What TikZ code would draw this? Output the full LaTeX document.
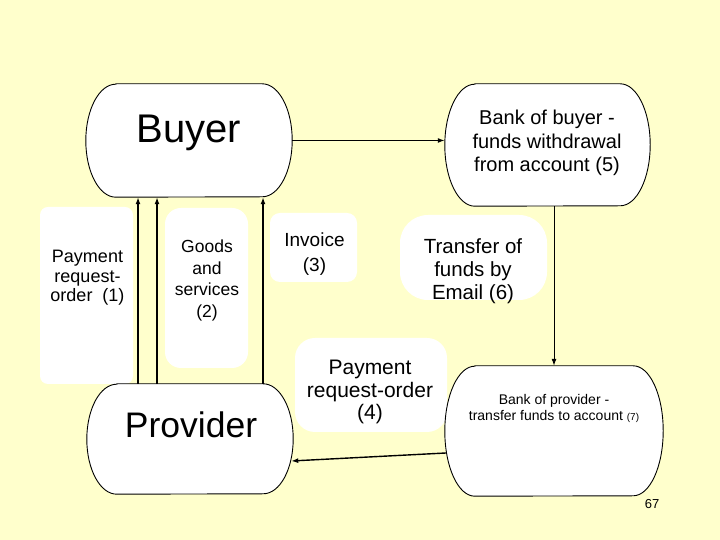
\documentclass[tikz,border=0pt]{standalone}
\usepackage{fontspec}
\setmainfont{Liberation Sans}
\usepackage{tikz}
\usetikzlibrary{arrows.meta,calc}
\definecolor{SlidePaper}{HTML}{FFFFCC}
\definecolor{SlideInk}{HTML}{000000}

% outline with flat top/bottom and half-ellipse sides around an empty node
\newcommand\flowbox[2]{%
  \draw[SlideInk,line width=0.9pt,fill=white]
    ($(#1.north west)+(30,0)$) -- ($(#1.north east)+(-30,0)$)
    arc[start angle=90,end angle=-90,x radius=30,y radius=#2]
    -- ($(#1.south west)+(30,0)$)
    arc[start angle=270,end angle=90,x radius=30,y radius=#2] -- cycle;}

\begin{document}
\begin{tikzpicture}[x=1pt,y=1pt,>={Latex[length=7pt,width=5pt]},
  boxarea/.style={inner sep=0pt,draw=none},
  patch/.style={fill=white},
  flow/.style={->,line width=1.4pt,SlideInk},
  tag/.style={anchor=base,align=center,inner sep=0pt}]
  \useasboundingbox (0,0) rectangle (720,540);
  \fill[SlidePaper] (0,0) rectangle (720,540);

  % white patches behind the labels
  \fill[patch,rounded corners=8] (40,156) rectangle (133,333);
  \fill[patch,rounded corners=16] (165,172) rectangle (248,332);
  \fill[patch,rounded corners=10] (270,258) rectangle (357,327);
  \fill[patch,rounded corners=28] (400,240) rectangle (547,325);
  \fill[patch,rounded corners=20] (295,108) rectangle (447,202);

  \node[boxarea,minimum width=206,minimum height=113] (buyer) at (189,399.5) {};
  \node[boxarea,minimum width=205,minimum height=122] (bankbuyer) at (547.5,395) {};
  \node[boxarea,minimum width=206,minimum height=110] (provider) at (190,101) {};
  \node[boxarea,minimum width=218,minimum height=130] (bankprov) at (554,109) {};
  \flowbox{buyer}{56.5}
  \flowbox{bankbuyer}{61}
  \flowbox{provider}{55}
  \flowbox{bankprov}{65}

  % base anchor = baseline of the last line
  \node[tag,font=\fontsize{40}{44}\selectfont] (buyertxt) at (189,397) {Buyer};
  \node[tag,font=\fontsize{35.5}{40}\selectfont] (providertxt) at (191,102) {Provider};
  \node[tag,font=\fontsize{20}{23.5}\selectfont] (bankbuyertxt) at (547,368)
    {Bank of buyer -\\funds withdrawal\\from account (5)};
  \node[tag,font=\fontsize{14}{16.4}\selectfont] (bankprovtxt) at (554,119.3)
    {Bank of provider -\\transfer funds to account {\fontsize{10}{12}\selectfont(7)}};
  \node[tag,font=\fontsize{18}{19.5}\selectfont] (step1) at (87.5,238)
    {Payment\\request-\\order\ \ (1)};
  \node[tag,font=\fontsize{17.5}{21.5}\selectfont] (step2) at (207,222.7)
    {Goods\\and\\services\\(2)};
  \node[tag,font=\fontsize{19}{25}\selectfont] (step3) at (314.5,268.3)
    {Invoice\\(3)};
  \node[tag,font=\fontsize{20.5}{23.3}\selectfont] (step6) at (473,240)
    {Transfer of\\funds by\\Email (6)};
  \node[tag,font=\fontsize{21}{22.5}\selectfont] (step4) at (370,120)
    {Payment\\request-order\\(4)};
  \node[anchor=base,font=\fontsize{13}{15}\selectfont] (pagenum) at (652,31) {67};

  \draw[flow] (buyer.east) -- (buyer.east -| bankbuyer.west);
  \draw[flow,line width=1pt] (bankbuyer.south -| bankprov.north) -- (bankprov.north);
  \draw[flow] ($(bankprov.west)+(1,-22)$) -- ($(provider.east)+(-2,-22)$);
  \foreach \dx in {-51,-32,74}
    \draw[flow] ([xshift=\dx]buyer.south |- provider.north) -- ([xshift=\dx]buyer.south);
\end{tikzpicture}
\end{document}
